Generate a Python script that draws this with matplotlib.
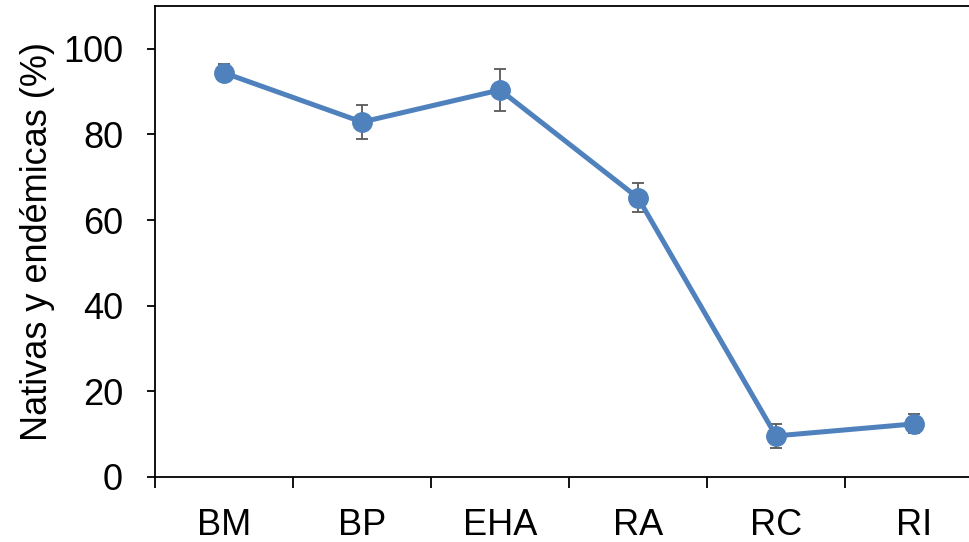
import matplotlib.pyplot as plt
import numpy as np

plt.rcParams['font.family'] = ['Liberation Sans', 'DejaVu Sans']

sitios = ["BM", "BP", "EHA", "RA", "RC", "RI"]
nativas = [94.4, 82.9, 90.4, 65.2, 9.6, 12.4]
error = [2.0, 3.9, 4.9, 3.4, 2.8, 2.2]

fig = plt.figure(figsize=(9.69, 5.42), dpi=100)
# axes runs past the right edge like in the original
ax = fig.add_axes([155/969, 1 - 477/542, 828/969, 471/542])

x = np.arange(len(sitios))
ax.errorbar(x, nativas, yerr=error, color="#4F81BD", lw=3.6, marker="o",
            markersize=14, ecolor="#595959", elinewidth=1.3, capsize=4.5,
            capthick=1.3, zorder=3)

ax.set_xlim(-0.5, len(sitios) - 0.5)
ax.set_ylim(0, 110)
ax.set_yticks([0, 20, 40, 60, 80, 100])
ax.set_xticks(x)
ax.set_xticklabels(sitios)
ax.set_xticks(np.arange(-0.5, len(sitios), 1), minor=True)
ax.tick_params(axis="x", which="major", length=0, pad=22, labelsize=26)
ax.tick_params(axis="x", which="minor", length=8, width=1.3, direction="out")
ax.tick_params(axis="y", length=6, width=1.3, labelsize=26, pad=17)
ax.set_ylabel("Nativas y endémicas (%)", fontsize=26, labelpad=6)

for s in ax.spines.values():
    s.set_linewidth(1.3)

fig.savefig("out.png", dpi=100)
